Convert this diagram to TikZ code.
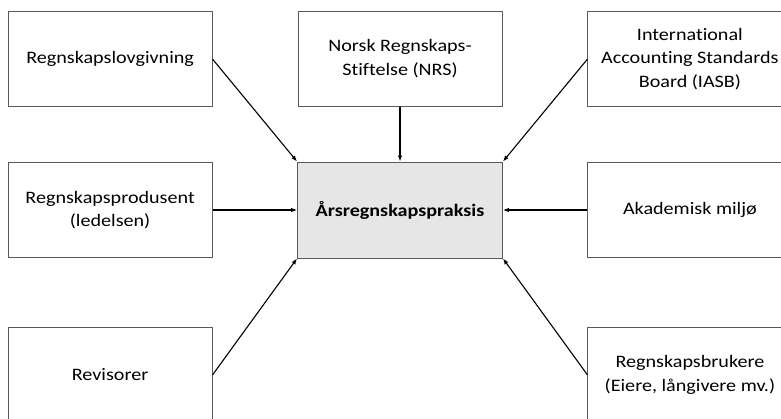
\documentclass[tikz,border=0pt]{standalone}
\usepackage{fontspec}
\setmainfont[FakeStretch=1.15,Ligatures=NoCommon]{Carlito}
\usetikzlibrary{positioning,arrows.meta}
\definecolor{boxline}{HTML}{595959}
\definecolor{boxfill}{HTML}{E6E6E6}
\begin{document}
\begin{tikzpicture}[x=1pt,y=-1pt,
    actor/.style={draw=boxline,line width=0.9pt,minimum width=204pt,minimum height=95pt,align=center,inner sep=2pt},
    influence/.style={-{Latex[length=6pt,width=4.5pt]},line width=1.1pt}]
\tikzset{every node/.style={font=\fontsize{17.5}{23.5}\selectfont}}
%\tikzset{every node/.style={font=\sffamily\large}}
\useasboundingbox (0,0) rectangle (781,419);
\clip (0,0) rectangle (781,419);

\node[actor,fill=boxfill,minimum width=205pt,minimum height=96pt] (praksis) at (400,210) {\textbf{Årsregnskapspraksis}};

\node[actor,left=84.5pt of praksis] (prod) {Regnskapsprodusent\\(ledelsen)};
\node[actor,right=84.5pt of praksis] (akad) {Akademisk miljø};
\node[actor,above=55pt of praksis] (nrs) {Norsk Regnskaps-\\Stiftelse (NRS)};
\node[actor,above=55pt of prod] (lov) {Regnskapslovgivning};
\node[actor,above=55pt of akad] (iasb) {International\\Accounting Standards\\Board (IASB)};
\node[actor,below=69pt of prod] (rev) {Revisorer};
\node[actor,below=69pt of akad] (bruk) {Regnskapsbrukere\\(Eiere, långivere mv.)};

\draw[influence] (lov.east) -- (praksis.north west);
\draw[influence] (nrs.south) -- (praksis.north);
\draw[influence] (iasb.west) -- (praksis.north east);
\draw[influence] (prod.east) -- (praksis.west);
\draw[influence] (akad.west) -- (praksis.east);
\draw[influence] (rev.east) -- (praksis.south west);
\draw[influence] (bruk.west) -- (praksis.south east);
\end{tikzpicture}
\end{document}
